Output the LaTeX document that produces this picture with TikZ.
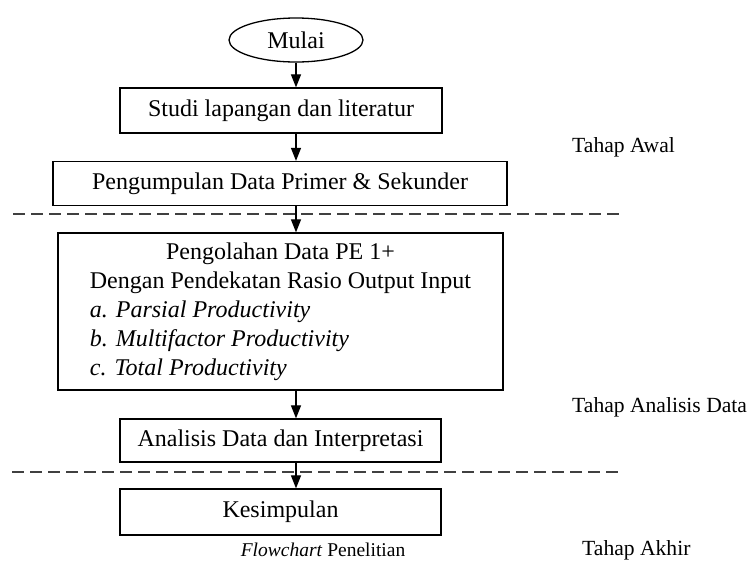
\documentclass[tikz,border=0pt]{standalone}
\usepackage{fontspec}
\setmainfont{Liberation Serif}
\usetikzlibrary{arrows.meta,shapes.geometric}
\begin{document}
\begin{tikzpicture}[x=1pt,y=-1pt,
  boxstyle/.style={draw=black,line width=1.3pt,inner sep=0pt,font=\fontsize{24}{29}\selectfont},
  flowarrow/.style={line width=1.2pt,-{Triangle[width=10pt,length=13pt]}},
  stageline/.style={draw=black!75,line width=2pt,dash pattern=on 12pt off 6pt},
  stagelabel/.style={anchor=west,inner sep=0pt,font=\fontsize{21.6}{26}\selectfont},
  captionstyle/.style={inner sep=0pt,font=\fontsize{19.5}{23}\selectfont}]
\useasboundingbox (0,0) rectangle (751,563);
% stage separators
\coordinate (d1a) at (13,214);
\coordinate (d1b) at (620,214);
\coordinate (d2a) at (12,472);
\coordinate (d2b) at (618,472);
\draw[stageline] (d1a) -- (d1b);
\draw[stageline] (d2a) -- (d2b);
% nodes
\node[boxstyle,ellipse,minimum width=134pt,minimum height=44pt] (mulai) at (296,40) {Mulai};
\node[boxstyle,rectangle,minimum width=322pt,minimum height=45pt] (studi) at (281,110.5) {Studi lapangan dan literatur};
\node[boxstyle,rectangle,minimum width=454pt,minimum height=44pt] (kumpul) at (280,183.5) {Pengumpulan Data Primer \& Sekunder};
\node[boxstyle,rectangle,minimum width=445pt,minimum height=157pt] (olah) at (280.5,311.5) {%
  \begin{tabular}{@{}l@{}}
  \multicolumn{1}{@{}c@{}}{Pengolahan Data PE 1+}\\
  Dengan Pendekatan Rasio Output Input\\
  \textit{a. Parsial Productivity}\\
  \textit{b. Multifactor Productivity}\\
  \textit{c. Total Productivity}
  \end{tabular}};
\node[boxstyle,rectangle,minimum width=321pt,minimum height=43pt] (analisis) at (280.5,440.5) {Analisis Data dan Interpretasi};
\node[boxstyle,rectangle,minimum width=321pt,minimum height=46pt] (simpul) at (280.5,512) {Kesimpulan};
% labels
\node[stagelabel] (awal) at (572,147) {Tahap Awal};
\node[stagelabel] (tanalisis) at (572,407) {Tahap Analisis Data};
\node[stagelabel] (akhir) at (582,550) {Tahap Akhir};
\node[captionstyle] (cap) at (323,550) {\textit{Flowchart} Penelitian};
% arrows
\draw[flowarrow] (mulai.south) -- (mulai.south |- studi.north);
\draw[flowarrow] (studi.south -| mulai) -- (kumpul.north -| mulai);
\draw[flowarrow] (kumpul.south -| mulai) -- (olah.north -| mulai);
\draw[flowarrow] (olah.south -| mulai) -- (analisis.north -| mulai);
\draw[flowarrow] (analisis.south -| mulai) -- (simpul.north -| mulai);
\end{tikzpicture}
\end{document}
